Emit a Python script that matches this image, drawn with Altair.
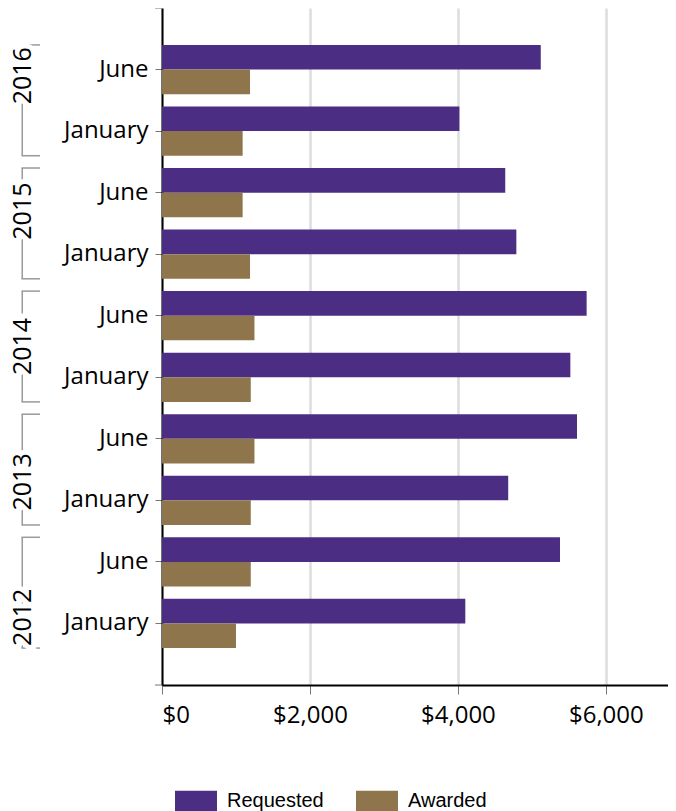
import altair as alt
import pandas as pd

# ---- data ----
years = ["2016", "2016", "2015", "2015", "2014", "2014", "2013", "2013", "2012", "2012"]
months = ["June", "January"] * 5
requested = [5120, 4020, 4640, 4790, 5740, 5520, 5610, 4680, 5380, 4100]
awarded = [1190, 1090, 1090, 1190, 1250, 1200, 1250, 1200, 1200, 1000]
series = ["Requested", "Awarded"]
colors = ["#4B2E83", "#8F754C"]
year_list = ["2016", "2015", "2014", "2013", "2012"]
x_ticks = [0, 2000, 4000, 6000]

periods = [f"{y} {m}" for y, m in zip(years, months)]
rows = []
for p, y, m, r, a in zip(periods, years, months, requested, awarded):
    rows.append({"period": p, "year": y, "series": "Requested", "amount": r})
    rows.append({"period": p, "year": y, "series": "Awarded", "amount": a})
df = pd.DataFrame(rows)
years_df = pd.DataFrame({"year": year_list})
one_df = pd.DataFrame({"k": [0]})

FONT = "Open Sans"
W, H = 506, 677

y_scale = alt.Scale(domain=periods, paddingInner=0.2, paddingOuter=0.6)
x_scale = alt.Scale(domain=[0, 6840], nice=False)

bars = alt.Chart(df).mark_bar().encode(
    x=alt.X(
        "amount:Q",
        scale=x_scale,
        axis=alt.Axis(
            values=x_ticks, format="$,.0f", title=None, grid=True,
            gridColor="#dddddd", gridWidth=2.5, domainColor="black", domainWidth=2,
            tickColor="#777777", tickSize=9, labelFont=FONT, labelFontSize=24,
            labelColor="black", labelPadding=9,
        ),
    ),
    y=alt.Y(
        "period:N",
        scale=y_scale,
        sort=periods,
        axis=alt.Axis(
            title=None, labelExpr="split(datum.label, ' ')[1]", domainColor="black",
            domainWidth=2, tickColor="#777777", tickSize=7, labelFont=FONT,
            labelFontSize=24, labelColor="black", labelPadding=7, grid=False,
        ),
    ),
    yOffset=alt.YOffset("series:N", sort=series, scale=alt.Scale(domain=series)),
    color=alt.Color(
        "series:N",
        scale=alt.Scale(domain=series, range=colors),
        legend=alt.Legend(
            title=None, orient="none", legendX=13, legendY=772, direction="horizontal",
            symbolType="M-1,-0.5H1V0.5H-1Z", symbolSize=1764, symbolStrokeWidth=0,
            labelFont="Liberation Sans", labelFontSize=20, labelColor="black",
            labelOffset=10, columnPadding=32, padding=0,
        ),
    ),
)

yr_scale = alt.Scale(domain=year_list, paddingInner=0.1, paddingOuter=0.3)
BR = "#9a9a9a"

bracket_line = alt.Chart(years_df).mark_rect(color=BR).encode(
    y=alt.Y("year:N", scale=yr_scale, sort=year_list, axis=None),
    x=alt.value(-140.5),
    x2=alt.value(-139),
)
bracket_top = alt.Chart(years_df).mark_rule(color=BR, strokeWidth=1.5).encode(
    y=alt.Y("year:N", scale=yr_scale, sort=year_list, axis=None, bandPosition=0),
    x=alt.value(-140.5),
    x2=alt.value(-122),
)
bracket_bot = alt.Chart(years_df).mark_rule(color=BR, strokeWidth=1.5).encode(
    y=alt.Y("year:N", scale=yr_scale, sort=year_list, axis=None, bandPosition=1),
    x=alt.value(-140.5),
    x2=alt.value(-122),
)
year_halo = alt.Chart(years_df).mark_text(
    angle=270, align="center", baseline="middle", font=FONT, fontSize=25,
    color="white", stroke="white", strokeWidth=10,
).encode(
    y=alt.Y("year:N", scale=yr_scale, sort=year_list, axis=None),
    x=alt.value(-139.5),
    text="year:N",
)
year_text = alt.Chart(years_df).mark_text(
    angle=270, align="center", baseline="middle", font=FONT, fontSize=25, color="black",
).encode(
    y=alt.Y("year:N", scale=yr_scale, sort=year_list, axis=None),
    x=alt.value(-139.5),
    text="year:N",
)
end_tick_top = alt.Chart(one_df).mark_rule(color="#777777", strokeWidth=1).encode(
    x=alt.value(-7), x2=alt.value(0), y=alt.value(0)
)
end_tick_bot = alt.Chart(one_df).mark_rule(color="#777777", strokeWidth=1).encode(
    x=alt.value(-7), x2=alt.value(0), y=alt.value(H)
)

chart = (
    alt.layer(bars, bracket_line, bracket_top, bracket_bot, year_halo, year_text,
              end_tick_top, end_tick_bot)
    .resolve_scale(y="independent")
    .properties(
        width=W, height=H,
        autosize=alt.AutoSizeParams(type="none"),
        padding={"left": 154, "top": 0, "right": 0, "bottom": 126},
    )
    .configure_view(stroke=None)
)

chart.save("out.html", embed_options={"renderer": "svg", "actions": False})
